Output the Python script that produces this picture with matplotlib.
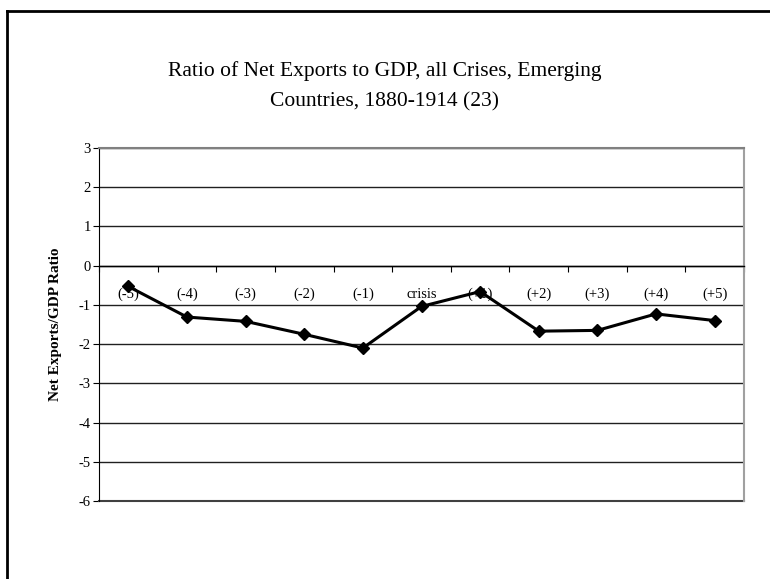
import matplotlib.pyplot as plt
from matplotlib.lines import Line2D
import numpy as np

categories = ['(-5)', '(-4)', '(-3)', '(-2)', '(-1)', 'crisis',
              '(+1)', '(+2)', '(+3)', '(+4)', '(+5)']
net_exports = [-0.53, -1.31, -1.42, -1.75, -2.10, -1.04,
               -0.66, -1.67, -1.65, -1.23, -1.40]
y_ticks = [3, 2, 1, 0, -1, -2, -3, -4, -5, -6]

plt.rcParams['font.family'] = ['Liberation Serif', 'DejaVu Serif']

fig = plt.figure(figsize=(7.7, 5.79), dpi=100)
ax = fig.add_axes([99 / 770, 1 - 501 / 579, 645 / 770, 353 / 579])

x = np.arange(len(categories))
ax.plot(x, net_exports, color='black', linewidth=2.2, marker='D',
        markersize=6.5, zorder=5, clip_on=False)

ax.set_xlim(-0.5, len(categories) - 0.5)
ax.set_ylim(min(y_ticks), max(y_ticks))
ax.set_yticks(y_ticks)
ax.set_yticklabels([str(t) for t in y_ticks], fontsize=10.5)
ax.tick_params(axis='y', direction='out', length=4, width=0.8, pad=2)
ax.yaxis.grid(True, color='#202020', linewidth=1.0)
ax.set_axisbelow(True)
ax.axhline(min(y_ticks), color='#404040', linewidth=1.5, clip_on=False, zorder=1)

# category axis crosses at zero
ax.spines['bottom'].set_position(('data', 0))
ax.spines['bottom'].set_linewidth(1.0)
ax.set_xticks(x)
ax.set_xticklabels(categories, fontsize=10.5)
ax.tick_params(axis='x', which='major', length=0, pad=16)
ax.set_xticks(np.arange(-0.5, len(categories)), minor=True)
ax.tick_params(axis='x', which='minor', direction='out', length=4, width=0.8)

ax.spines['left'].set_color('black')
ax.spines['top'].set_color('#808080')
ax.spines['top'].set_linewidth(1.5)
ax.spines['right'].set_color('#a0a0a0')
ax.spines['right'].set_linewidth(1.5)

ax.set_ylabel('Net Exports/GDP Ratio', fontsize=11, fontweight='bold', labelpad=12)

fig.text(0.5, 1 - 71 / 579, 'Ratio of Net Exports to GDP, all Crises, Emerging',
         ha='center', va='center', fontsize=15.5)
fig.text(0.5, 1 - 102 / 579, 'Countries, 1880-1914 (23)',
         ha='center', va='center', fontsize=15.5)

# outer chart frame (left and top edges visible)
fig.add_artist(Line2D([7 / 770, 7 / 770], [0, 1 - 11 / 579], color='black',
                      linewidth=2, transform=fig.transFigure))
fig.add_artist(Line2D([7 / 770, 1], [1 - 11 / 579, 1 - 11 / 579], color='black',
                      linewidth=2, transform=fig.transFigure))

fig.savefig('out.png', dpi=100)
